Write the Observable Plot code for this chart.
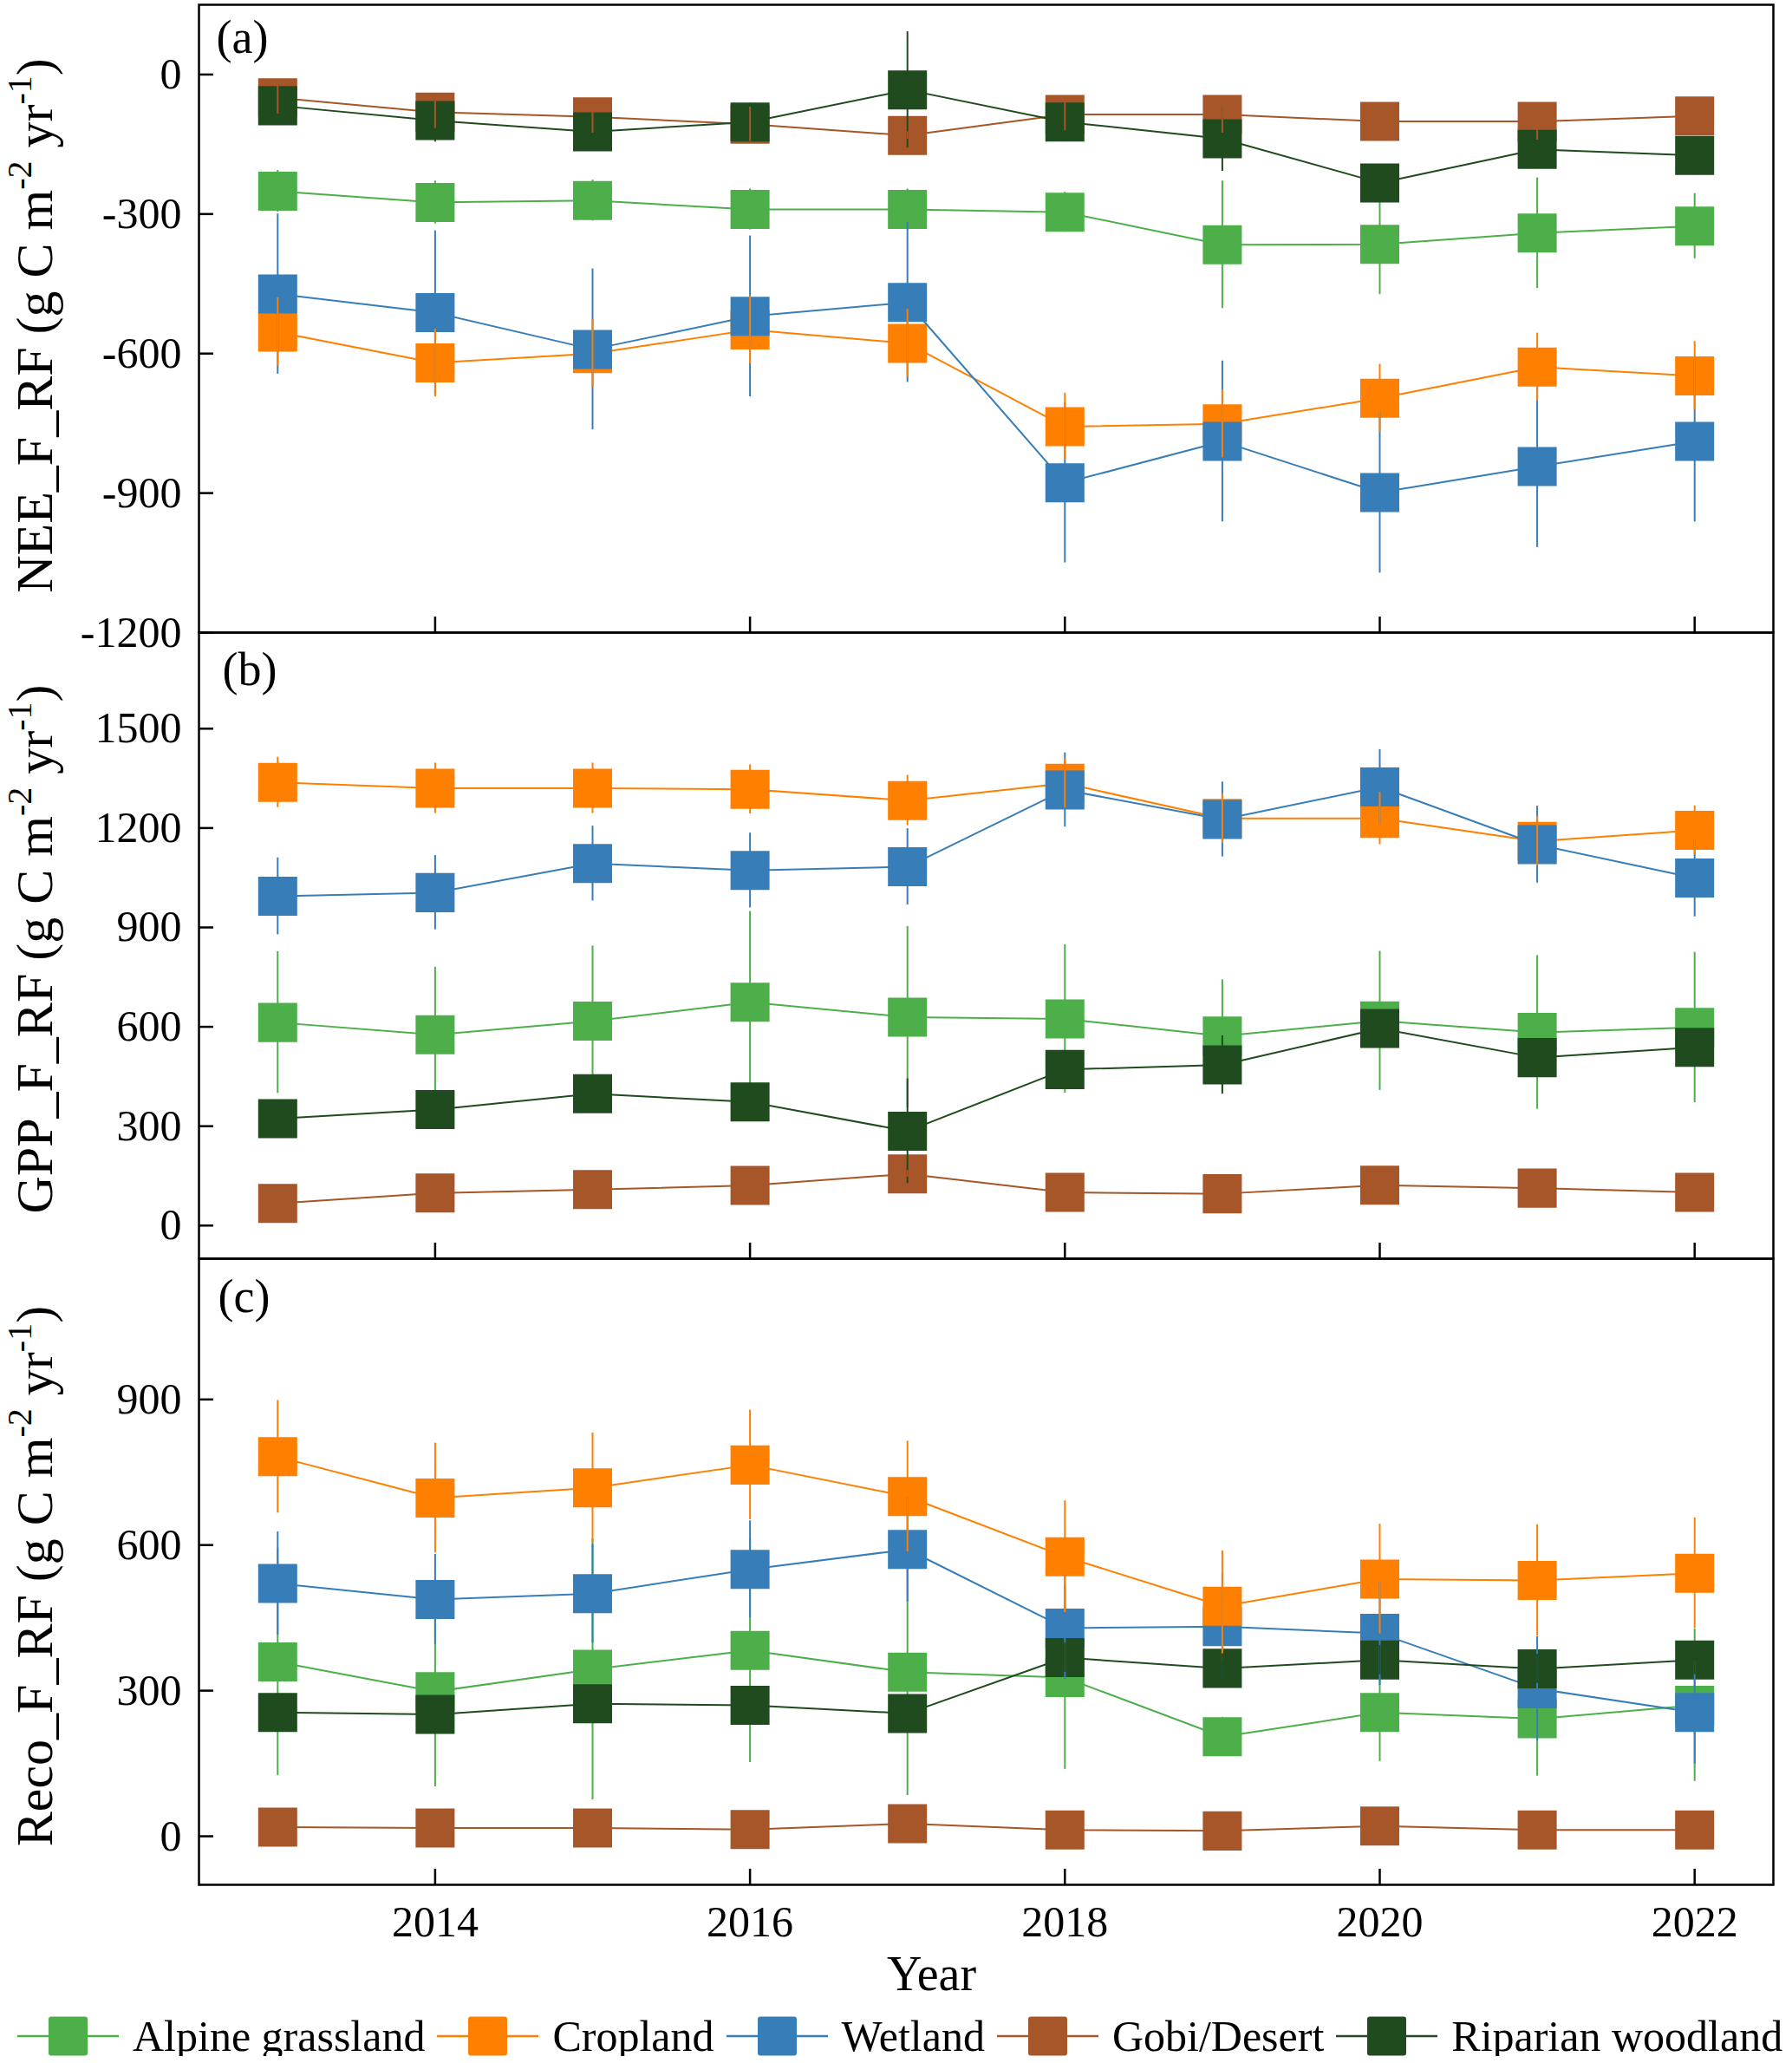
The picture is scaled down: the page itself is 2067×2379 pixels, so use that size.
<!DOCTYPE html>
<html>
<head>
<meta charset="utf-8">
<script src="https://cdn.jsdelivr.net/npm/d3@7"></script>
<script src="https://cdn.jsdelivr.net/npm/@observablehq/plot@0.6"></script>
<style>
  html, body { margin: 0; padding: 0; background: #fff; }
  #chart { width: 2067px; }
  #chart svg { display: block; }
  #legend { display: flex; align-items: center; padding-left: 20px; height: 46px;
            font-family: "Liberation Serif", "Times New Roman", serif; font-size: 50px; line-height: 46px; color: #000; white-space: nowrap; }
  #legend .lab { margin-left: 16px; margin-right: 14px; }
</style>
</head>
<body>
<div id="chart"></div>
<div id="legend"></div>
<script>
// ---------------- data ----------------
const years = [2013, 2014, 2015, 2016, 2017, 2018, 2019, 2020, 2021, 2022];
const seriesNames = ["Alpine grassland", "Cropland", "Wetland", "Gobi/Desert", "Riparian woodland"];
const seriesColors = ["#4DAF4A", "#FF7F00", "#377EB8", "#A65628", "#1F4B1F"];

// (a) NEE_F_RF
const neeAlpine = [-251, -275, -271, -290, -290, -296, -366, -365, -341, -326];
const neeCropland = [-554, -620, -600, -549, -578, -757, -751, -696, -629, -648];
const neeWetland = [-472, -512, -591, -520, -490, -878, -789, -899, -843, -789];
const neeGobi = [-50, -81, -91, -107, -131, -86, -86, -101, -101, -89];
const neeRiparian = [-67, -99, -123, -102, -33, -102, -138, -233, -161, -174];
const neeAlpineErr = [45, 46, 44, 44, 44, 43, 137, 108, 119, 70];
const neeCroplandErr = [74, 73, 73, 73, 73, 72, 73, 73, 73, 74];
const neeWetlandErr = [172, 176, 173, 173, 172, 172, 173, 173, 174, 173];
const neeGobiErr = [35, 35, 35, 37, 8, 35, 40, 35, 40, 35];
const neeRiparianErr = [35, 46, 40, 40, 125, 40, 70, 40, 40, 40];

// (b) GPP_F_RF
const gppAlpine = [613, 576, 617, 674, 629, 624, 572, 618, 583, 598];
const gppCropland = [1338, 1320, 1320, 1317, 1283, 1335, 1229, 1229, 1160, 1193];
const gppWetland = [994, 1005, 1093, 1072, 1083, 1315, 1226, 1324, 1150, 1049];
const gppGobi = [67, 98, 109, 121, 156, 100, 96, 122, 113, 100];
const gppRiparian = [323, 350, 398, 373, 285, 471, 485, 595, 507, 538];
const gppAlpineErr = [214, 204, 227, 274, 274, 224, 170, 210, 232, 227];
const gppCroplandErr = [76, 76, 76, 74, 76, 75, 75, 79, 75, 74];
const gppWetlandErr = [116, 112, 113, 113, 115, 112, 113, 113, 116, 117];
const gppGobiErr = [10, 10, 10, 10, 10, 10, 10, 10, 10, 10];
const gppRiparianErr = [50, 50, 50, 50, 158, 50, 88, 50, 50, 50];

// (c) Reco_F_RF
const recoAlpine = [359, 298, 344, 383, 338, 327, 205, 255, 242, 270];
const recoCropland = [782, 697, 718, 765, 700, 576, 474, 530, 527, 542];
const recoWetland = [521, 488, 500, 550, 591, 429, 432, 418, 304, 255];
const recoGobi = [19, 17, 17, 14, 26, 13, 11, 21, 13, 13];
const recoRiparian = [255, 251, 273, 270, 253, 368, 346, 363, 345, 363];
const recoAlpineErr = [234, 196, 269, 231, 254, 189, 40, 101, 118, 157];
const recoCroplandErr = [116, 113, 113, 113, 114, 115, 114, 113, 115, 114];
const recoWetlandErr = [106, 93, 102, 100, 108, 106, 108, 107, 107, 106];
const recoGobiErr = [10, 10, 10, 10, 10, 10, 10, 10, 10, 10];
const recoRiparianErr = [30, 30, 30, 30, 30, 30, 30, 30, 30, 30];

const xTicks = [2014, 2016, 2018, 2020, 2022];
const neeTicks = [0, -300, -600, -900, -1200];
const gppTicks = [0, 300, 600, 900, 1200, 1500];
const recoTicks = [0, 300, 600, 900];

// ---------------- helpers ----------------
const FONT = "'Liberation Serif', 'Times New Roman', serif";
const W = 2067, ML = 229, MR = 22;
const plotW = W - ML - MR;

function rows(values, errs) {
  return years.map((year, i) => ({year, value: values[i], err: errs[i]}));
}

function panel(cfg) {
  const data = cfg.values.map((v, k) => rows(v, cfg.errs[k]));
  const areaH = cfg.height - cfg.marginTop - cfg.marginBottom;
  const err = (k) => Plot.ruleX(data[k], {
    x: "year", y1: d => d.value - d.err, y2: d => d.value + d.err,
    stroke: seriesColors[k], strokeWidth: 2
  });
  const marks = [];
  marks.push(err(0));
  for (const k of cfg.order) {
    marks.push(Plot.line(data[k], {x: "year", y: "value", stroke: seriesColors[k], strokeWidth: 2}));
    marks.push(Plot.dot(data[k], {x: "year", y: "value", symbol: "square", r: 25.4, fill: seriesColors[k], stroke: "none"}));
  }
  for (const k of [2, 1, 4, 3]) marks.push(err(k));
  marks.push(Plot.tickY(cfg.ticks, {y: d => d, stroke: "black", strokeWidth: 2.5, insetRight: plotW - 17}));
  marks.push(Plot.tickX(xTicks, {x: d => d, stroke: "black", strokeWidth: 2.5, insetTop: areaH - 18}));
  marks.push(Plot.axisY({ticks: cfg.ticks, tickSize: 0, tickPadding: 20, fontSize: 50, tickFormat: d => String(d), label: null}));
  if (cfg.xAxis) {
    marks.push(Plot.axisX({ticks: xTicks, tickSize: 0, tickPadding: 24, fontSize: 50, tickFormat: d => String(d), label: null}));
    marks.push(Plot.text(["Year"], {frameAnchor: "bottom", text: d => d, dx: -63, dy: 104, fontSize: 56, lineAnchor: "middle", textAnchor: "middle", fill: "black"}));
  }
  marks.push(Plot.frame({stroke: "black", strokeWidth: 2.5}));
  marks.push(Plot.text([cfg.tag], {frameAnchor: "top-left", text: d => d, dx: cfg.tagDx, dy: cfg.tagDy, fontSize: 54, fill: "black"}));
  marks.push(Plot.text([cfg.title], {frameAnchor: "left", text: d => d, rotate: -90, dx: -189, dy: cfg.titleDy, fontSize: 60, textAnchor: "middle", lineAnchor: "middle", fill: "black"}));

  const svg = Plot.plot({
    width: W, height: cfg.height,
    marginLeft: ML, marginRight: MR, marginTop: cfg.marginTop, marginBottom: cfg.marginBottom,
    x: {domain: [2012.5, 2022.5], axis: cfg.xAxis ? undefined : null},
    y: {domain: cfg.domain},
    style: {background: "none", overflow: "visible", fontFamily: FONT, color: "black"},
    marks
  });

  // superscripts in the y-axis title
  d3.select(svg).selectAll("text").filter(function () { return this.textContent === cfg.title; })
    .each(function () {
      const t = d3.select(this);
      t.text(null);
      let shifted = false;
      for (const p of cfg.titleParts) {
        const ts = t.append("tspan");
        if (typeof p === "string") {
          ts.text(p);
          if (shifted) { ts.attr("dy", 24); shifted = false; }
        } else {
          ts.text(p.sup).attr("font-size", 40).attr("dy", -24);
          shifted = true;
        }
      }
    });
  return svg;
}

const unitParts = (name) => [name + " (g C m", {sup: "-2"}, " yr", {sup: "-1"}, ")"];

const chart = document.getElementById("chart");
chart.append(panel({
  values: [neeAlpine, neeCropland, neeWetland, neeGobi, neeRiparian],
  errs: [neeAlpineErr, neeCroplandErr, neeWetlandErr, neeGobiErr, neeRiparianErr],
  order: [0, 1, 2, 3, 4], domain: [-1200, 150], ticks: neeTicks,
  height: 729, marginTop: 5, marginBottom: 0, xAxis: false,
  tag: "(a)", tagDx: 20, tagDy: 17, title: "NEE_F_RF (g C m-2 yr-1)", titleParts: unitParts("NEE_F_RF"), titleDy: 8
}));
chart.append(panel({
  values: [gppAlpine, gppCropland, gppWetland, gppGobi, gppRiparian],
  errs: [gppAlpineErr, gppCroplandErr, gppWetlandErr, gppGobiErr, gppRiparianErr],
  order: [0, 1, 2, 3, 4], domain: [-100, 1790], ticks: gppTicks,
  height: 722, marginTop: 0, marginBottom: 0, xAxis: false,
  tag: "(b)", tagDx: 27, tagDy: 22, title: "GPP_F_RF (g C m-2 yr-1)", titleParts: unitParts("GPP_F_RF"), titleDy: 4
}));
chart.append(panel({
  values: [recoAlpine, recoCropland, recoWetland, recoGobi, recoRiparian],
  errs: [recoAlpineErr, recoCroplandErr, recoWetlandErr, recoGobiErr, recoRiparianErr],
  order: [0, 2, 1, 3, 4], domain: [-100, 1190], ticks: recoTicks,
  height: 874, marginTop: 0, marginBottom: 152, xAxis: true,
  tag: "(c)", tagDx: 22, tagDy: 23, title: "Reco_F_RF (g C m-2 yr-1)", titleParts: unitParts("Reco_F_RF"), titleDy: 5
}));

// ---------------- legend ----------------
const legend = d3.select("#legend");
seriesNames.forEach((name, k) => {
  const item = legend.append("div").style("display", "flex").style("align-items", "center");
  const sw = item.append("svg").attr("width", 117).attr("height", 46).style("display", "block");
  sw.append("line").attr("x1", 0).attr("x2", 117).attr("y1", 23).attr("y2", 23)
    .attr("stroke", seriesColors[k]).attr("stroke-width", 2.5);
  sw.append("rect").attr("x", 36).attr("y", 0.5).attr("width", 45).attr("height", 45).attr("rx", 3)
    .attr("fill", seriesColors[k]);
  item.append("span").attr("class", "lab").text(name);
});
</script>
</body>
</html>
